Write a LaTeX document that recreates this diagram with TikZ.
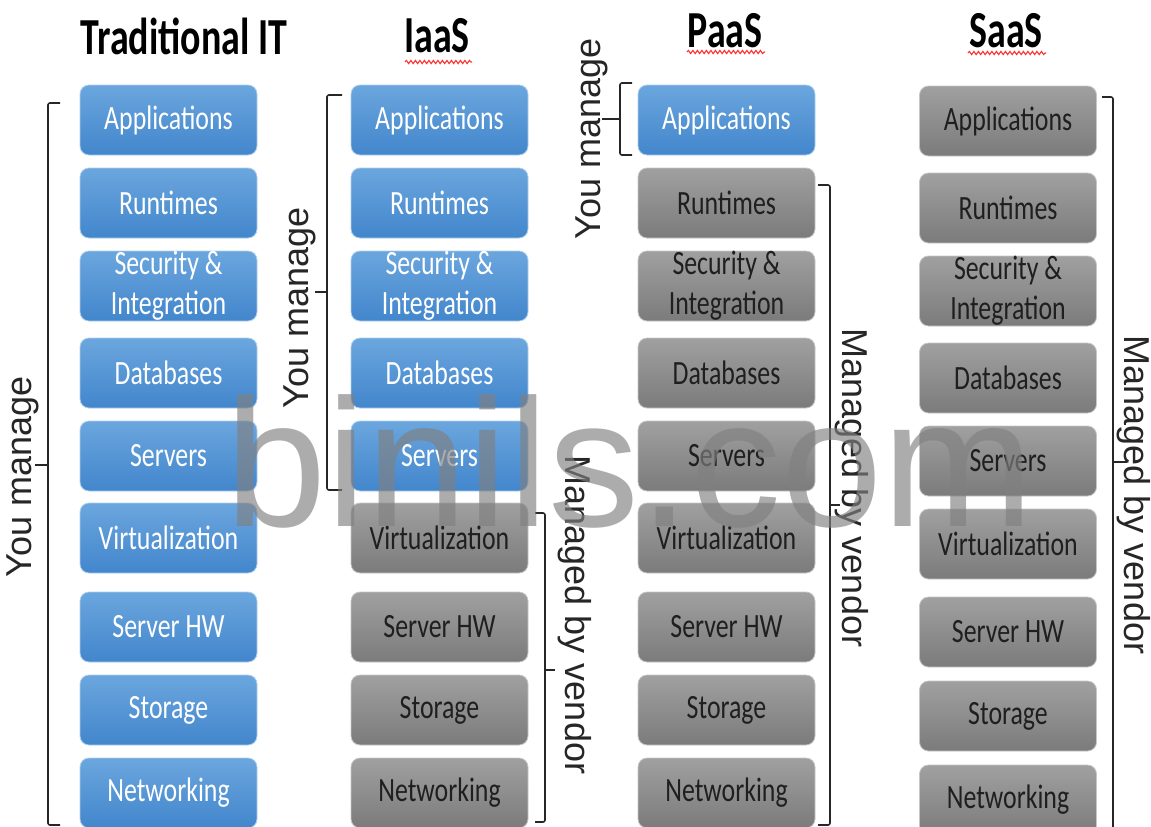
\documentclass[tikz,border=0pt]{standalone}
\usepackage{fontspec}
\setmainfont{Carlito}
\newfontfamily\boxfont{Carlito}[FakeStretch=0.76]
\newfontfamily\headfont{Carlito}[FakeStretch=0.73]
\newfontfamily\sidefont{Liberation Sans}
\usetikzlibrary{decorations.pathmorphing,calc}

\definecolor{blueTop}{HTML}{6BA6DE}
\definecolor{blueBot}{HTML}{4286CC}
\definecolor{grayTop}{HTML}{A0A0A0}
\definecolor{grayBot}{HTML}{7B7B7B}
\definecolor{markgray}{HTML}{808080}

\tikzset{
  layer/.style={minimum width=177pt, minimum height=70pt, inner sep=0pt,
    rounded corners=9pt, align=center, line width=0.8pt,
    font=\boxfont\fontsize{34}{40}\selectfont},
  own/.style={layer, top color=blueTop, bottom color=blueBot,
    draw=blueTop!55!white, text=white},
  vendor/.style={layer, top color=grayTop, bottom color=grayBot,
    draw=gray!45, text=black!88},
  head/.style={font=\headfont\bfseries\fontsize{52}{52}\selectfont, inner sep=0pt},
  side/.style={font=\sidefont\fontsize{36}{36}\selectfont, inner sep=0pt, text=black!85},
  bracket/.style={draw=black!85, line width=1.6pt, rounded corners=2pt},
  spell/.style={draw=red!80, line width=1.1pt, decorate,
    decoration={snake, amplitude=1.6pt, segment length=4.5pt}},
}

\begin{document}
\begin{tikzpicture}[x=1pt, y=-1pt]
\useasboundingbox (0,0) rectangle (1151,827);

% column headings
\node[head] (hTrad) at (184,36) {Traditional IT};
\node[head] (hIaas) at (437,36) {IaaS};
\node[head] (hPaas) at (725,31) {PaaS};
\node[head] (hSaas) at (1006,31) {SaaS};
\draw[spell] (405,62) -- (472,62);
\draw[spell] (687,52) -- (765,52);
\draw[spell] (968,53) -- (1046,53);

% Traditional IT: everything managed by you
\node[own] (t1) at (168.5,120) {Applications};
\node[own] (t2) at (168.5,203) {Runtimes};
\node[own] (t3) at (168.5,286) {Security \&\\Integration};
\node[own] (t4) at (168.5,373) {Databases};
\node[own] (t5) at (168.5,456) {Servers};
\node[own] (t6) at (168.5,538) {Virtualization};
\node[own] (t7) at (168.5,627) {Server HW};
\node[own] (t8) at (168.5,710) {Storage};
\node[own] (t9) at (168.5,793) {Networking};

% IaaS
\node[own]    (i1) at (439.5,120) {Applications};
\node[own]    (i2) at (439.5,203) {Runtimes};
\node[own]    (i3) at (439.5,286) {Security \&\\Integration};
\node[own]    (i4) at (439.5,373) {Databases};
\node[own]    (i5) at (439.5,456) {Servers};
\node[vendor] (i6) at (439.5,538) {Virtualization};
\node[vendor] (i7) at (439.5,627) {Server HW};
\node[vendor] (i8) at (439.5,710) {Storage};
\node[vendor] (i9) at (439.5,793) {Networking};

% PaaS
\node[own]    (p1) at (726.5,120) {Applications};
\node[vendor] (p2) at (726.5,203) {Runtimes};
\node[vendor] (p3) at (726.5,286) {Security \&\\Integration};
\node[vendor] (p4) at (726.5,373) {Databases};
\node[vendor] (p5) at (726.5,456) {Servers};
\node[vendor] (p6) at (726.5,538) {Virtualization};
\node[vendor] (p7) at (726.5,627) {Server HW};
\node[vendor] (p8) at (726.5,710) {Storage};
\node[vendor] (p9) at (726.5,793) {Networking};

% SaaS
\node[vendor] (s1) at (1008,121) {Applications};
\node[vendor] (s2) at (1008,208) {Runtimes};
\node[vendor] (s3) at (1008,291) {Security \&\\Integration};
\node[vendor] (s4) at (1008,378) {Databases};
\node[vendor] (s5) at (1008,461) {Servers};
\node[vendor] (s6) at (1008,544) {Virtualization};
\node[vendor] (s7) at (1008,632) {Server HW};
\node[vendor] (s8) at (1008,716) {Storage};
\node[vendor] (s9) at (1008,800) {Networking};

% bracket end points
\coordinate (bTa) at (48,103);  \coordinate (bTb) at (48,825);
\coordinate (bIa) at (327,95);  \coordinate (bIb) at (327,490);
\coordinate (bIc) at (545,513); \coordinate (bId) at (545,822);
\coordinate (bPa) at (620,83);  \coordinate (bPb) at (620,155);
\coordinate (bPc) at (830,185); \coordinate (bPd) at (830,825);
\coordinate (bSa) at (1113,97); \coordinate (bSb) at (1113,832);

% brackets
\draw[bracket] ($(bTa)+(12,0)$) -- (bTa) -- (bTb) -- ++(12,0);
\draw[bracket] (48,465) -- ++(-13,0);
\draw[bracket] ($(bIa)+(15,0)$) -- (bIa) -- (bIb) -- ++(15,0);
\draw[bracket] (327,292) -- ++(-12,0);
\draw[bracket] ($(bIc)+(-10,0)$) -- (bIc) -- (bId) -- ++(-10,0);
\draw[bracket] (545,670) -- ++(10,0);
\draw[bracket] ($(bPa)+(12,0)$) -- (bPa) -- (bPb) -- ++(12,0);
\draw[bracket] (620,119) -- ++(-18,0);
\draw[bracket] ($(bPc)+(-12,0)$) -- (bPc) -- (bPd) -- ++(-12,0);
\draw[bracket] (830,505) -- ++(10,0);
\draw[bracket] ($(bSa)+(-11,0)$) -- (bSa) -- (bSb);
\draw[bracket] (1113,462) -- ++(14,0);

% side labels
\node[side, rotate=90]  (yT) at (23,477)  {You manage};
\node[side, rotate=90]  (yI) at (300,308) {You manage};
\node[side, rotate=90]  (yP) at (592,139) {You manage};
\node[side, rotate=-90] (vI) at (575,615) {Managed by vendor};
\node[side, rotate=-90] (vP) at (852,488) {Managed by vendor};
\node[side, rotate=-90] (vS) at (1134,495) {Managed by vendor};

% watermark
\node[font=\sidefont\fontsize{182}{182}\selectfont, text=markgray, opacity=0.65,
  inner sep=0pt, anchor=base west] (wm) at (225,526) {binils.com};
\end{tikzpicture}
\end{document}
